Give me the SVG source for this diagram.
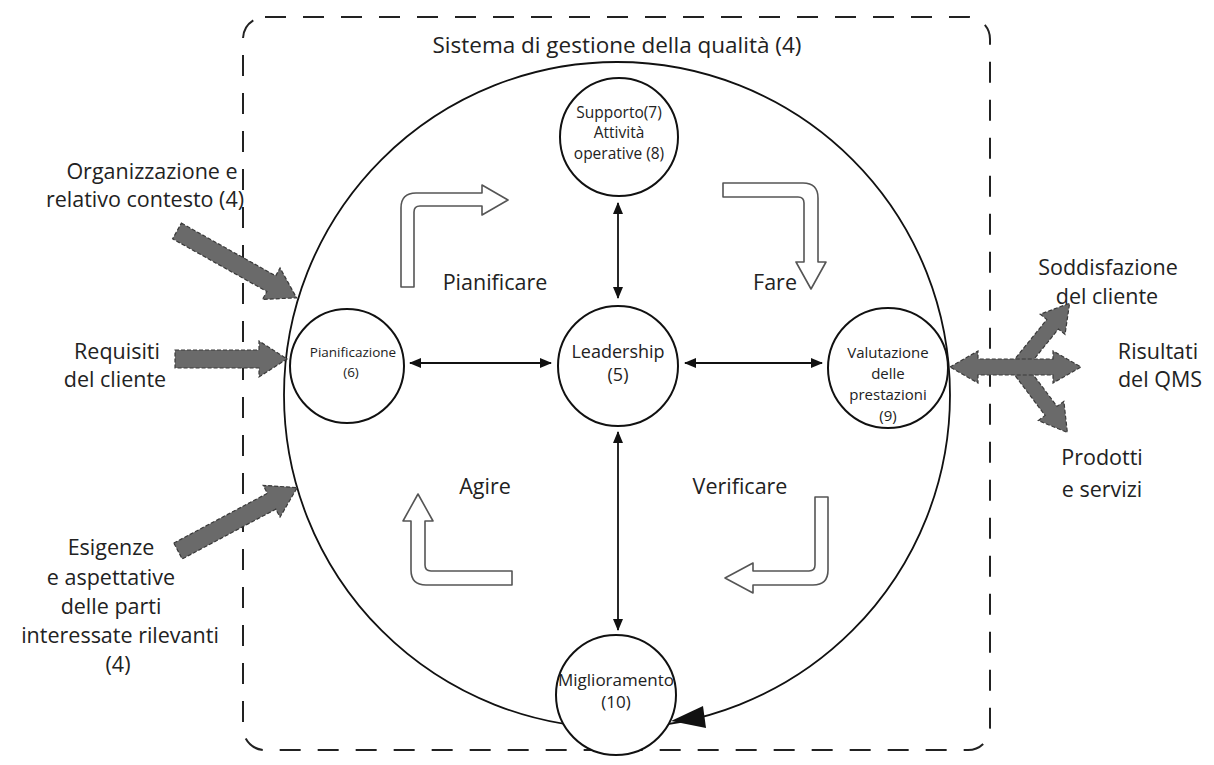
<svg xmlns="http://www.w3.org/2000/svg" width="1214" height="765" viewBox="0 0 1214 765">
<defs>
<style>
text{font-family:"Open Sans","Liberation Sans",sans-serif;fill:#222;text-anchor:middle}
.lbl{font-size:21.5px}
.node{fill:#fff;stroke:#111;stroke-width:2}
.hollow{fill:#fff;stroke:#555;stroke-width:1.6;stroke-linejoin:round}
.grey{fill:#6a6a6a;stroke:#3a3a3a;stroke-width:1.2;stroke-dasharray:4 2}
.conn{stroke:#111;stroke-width:1.8;fill:none;marker-start:url(#ah);marker-end:url(#ah)}
</style>
<marker id="ah" markerUnits="userSpaceOnUse" markerWidth="12" markerHeight="10" refX="11" refY="5" orient="auto-start-reverse">
<path d="M0,0 L12,5 L0,10 Z" fill="#111"/>
</marker>
</defs>
<rect width="1214" height="765" fill="#fff"/>

<g id="qms-boundary">
<rect x="243" y="17" width="747" height="733" rx="22" fill="none" stroke="#222" stroke-width="2" stroke-dasharray="21 17"/>
<text x="617" y="53" style="font-size:22.5px">Sistema di gestione della qualità (4)</text>
</g>

<g id="cycle">
<circle cx="617" cy="395" r="333" fill="none" stroke="#111" stroke-width="1.8"/>
<polygon points="671,721 703,706 706,728" fill="#111"/>
</g>

<g id="connectors">
<line class="conn" x1="618" y1="203" x2="618" y2="298"/>
<line class="conn" x1="618" y1="432" x2="618" y2="630"/>
<line class="conn" x1="410" y1="363" x2="551" y2="363"/>
<line class="conn" x1="685" y1="363" x2="822" y2="363"/>
</g>

<g id="pdca-arrows">
<path class="hollow" d="M401,287 L401,208 Q401,193 416,193 L482,193 L482,185 L508,200 L482,215 L482,206 L420,206 Q414,206 414,212 L414,287 Z"/>
<path class="hollow" d="M723,183 L803,183 Q818,183 818,198 L818,262 L826,262 L811,289 L796,262 L804,262 L804,203 Q804,197 798,197 L723,197 Z"/>
<path class="hollow" d="M815,497 L828,497 L828,570 Q828,585 813,585 L753,585 L753,593 L725,578 L753,563 L753,571 L809,571 Q815,571 815,565 Z"/>
<path class="hollow" d="M411,521 L403,521 L418,494 L433,521 L425,521 L425,565 Q425,571 431,571 L512,571 L512,585 L426,585 Q411,585 411,570 Z"/>
<text class="lbl" x="495" y="290">Pianificare</text>
<text class="lbl" x="775" y="290">Fare</text>
<text class="lbl" x="485" y="494">Agire</text>
<text class="lbl" x="740" y="494">Verificare</text>
</g>

<g id="node-supporto">
<circle class="node" cx="619" cy="137" r="59"/>
<text x="619" y="118" style="font-size:15.5px">Supporto(7)</text>
<text x="619" y="138" style="font-size:15.5px">Attività</text>
<text x="619" y="159" style="font-size:15.5px">operative (8)</text>
</g>

<g id="node-leadership">
<circle class="node" cx="618" cy="366" r="60"/>
<text x="618" y="358" style="font-size:18px">Leadership</text>
<text x="618" y="381" style="font-size:18px">(5)</text>
</g>

<g id="node-pianificazione">
<circle class="node" cx="347" cy="366" r="57"/>
<text x="353" y="357" style="font-size:13.5px">Pianificazione</text>
<text x="351" y="377" style="font-size:13.5px">(6)</text>
</g>

<g id="node-valutazione">
<circle class="node" cx="888" cy="368" r="60"/>
<text x="888" y="358" style="font-size:15px">Valutazione</text>
<text x="888" y="379" style="font-size:15px">delle</text>
<text x="888" y="400" style="font-size:15px">prestazioni</text>
<text x="888" y="421" style="font-size:15px">(9)</text>
</g>

<g id="node-miglioramento">
<circle class="node" cx="616" cy="695" r="60"/>
<text x="616" y="686" style="font-size:17px">Miglioramento</text>
<text x="616" y="708" style="font-size:17px">(10)</text>
</g>

<g id="input-organizzazione">
<polygon class="grey" transform="translate(177,231) rotate(29.2)" points="0,-9 108,-9 108,-18 137,0 108,18 108,9 0,9"/>
<text class="lbl" x="152" y="179">Organizzazione e</text>
<text class="lbl" x="145" y="207">relativo contesto (4)</text>
</g>

<g id="input-requisiti">
<polygon class="grey" transform="translate(175,359)" points="0,-9 84,-9 84,-18 112,0 84,18 84,9 0,9"/>
<text class="lbl" x="117" y="359">Requisiti</text>
<text class="lbl" x="115" y="387">del cliente</text>
</g>

<g id="input-esigenze">
<polygon class="grey" transform="translate(178,551) rotate(-28)" points="0,-9 106,-9 106,-18 135,0 106,18 106,9 0,9"/>
<text class="lbl" x="111" y="555">Esigenze</text>
<text class="lbl" x="111" y="585">e aspettative</text>
<text class="lbl" x="111" y="614">delle parti</text>
<text class="lbl" x="120" y="643">interessate rilevanti</text>
<text class="lbl" x="118" y="672">(4)</text>
</g>

<g id="output-risultati">
<polygon class="grey" transform="translate(1018,367) rotate(-51)" points="0,-7.5 55,-7.5 55,-16 82,0 55,16 55,7.5 0,7.5"/>
<polygon class="grey" transform="translate(1018,367) rotate(53)" points="0,-7.5 55,-7.5 55,-16 82,0 55,16 55,7.5 0,7.5"/>
<polygon class="grey" points="950,367 978,351 978,359 1053,359 1053,351 1081,367 1053,383 1053,375 978,375 978,383"/>
<text class="lbl" x="1108" y="275">Soddisfazione</text>
<text class="lbl" x="1107" y="304">del cliente</text>
<text class="lbl" x="1158" y="359">Risultati</text>
<text class="lbl" x="1160" y="387">del QMS</text>
<text class="lbl" x="1102" y="465">Prodotti</text>
<text class="lbl" x="1102" y="497">e servizi</text>
</g>
</svg>
